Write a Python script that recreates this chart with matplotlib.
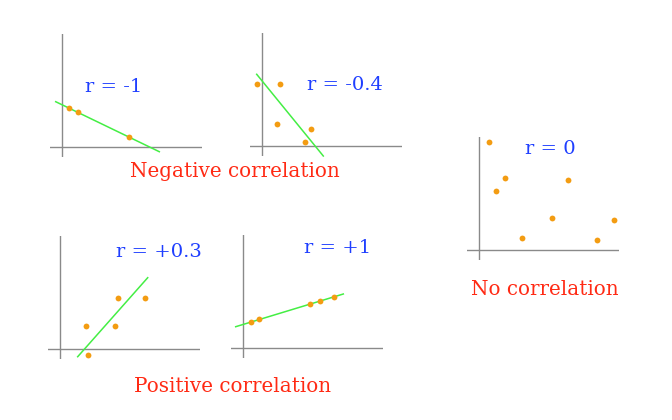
import matplotlib
matplotlib.use("Agg")
import matplotlib.pyplot as plt

W, H = 672, 420

# point data in each panel's own units (origin = where the axes cross)
neg1_x = [7, 16, 67]
neg1_y = [38.4, 34.7, 9.4]
neg1_fit_x = [-6.6, 97]
neg1_fit_y = [45, -5]

neg04_x = [-5, 18.3, 15, 49.6, 43.6]
neg04_y = [62, 62, 22.3, 16.7, 3.7]
neg04_fit_x = [-5, 61.6]
neg04_fit_y = [71.7, -10]

zero_x = [10, 26.3, 16.7, 89.3, 73, 43, 118, 134.7]
zero_y = [107.4, 72, 58.7, 69.4, 32, 11.7, 10, 29.7]

pos03_x = [26, 58, 55.6, 85.3, 28.6]
pos03_y = [23, 51, 22.7, 50.7, -6]
pos03_fit_x = [18, 88]
pos03_fit_y = [-8, 71]

pos1_x = [7.4, 16, 66.7, 77, 90.7]
pos1_y = [25.7, 28.7, 43.7, 47, 51]
pos1_fit_x = [-7.6, 100]
pos1_fit_y = [21, 53.7]

labels = ["r = -1", "r = -0.4", "r = 0", "r = +0.3", "r = +1"]
groups = ["Negative correlation", "No correlation", "Positive correlation"]

ORANGE = "#f39c12"
GREEN = "#44ee44"
GREY = "#8a8a8a"
RED = "#ff2a14"
BLUE = "#1f3fff"

fig = plt.figure(figsize=(W / 100, H / 100), dpi=100)

panels = [
    # origin px, points, fit line, label, label position px
    ((62.3, 146.7), neg1_x, neg1_y, (neg1_fit_x, neg1_fit_y), labels[0], (114, 86.7)),
    ((261.7, 146.0), neg04_x, neg04_y, (neg04_fit_x, neg04_fit_y), labels[1], (345, 85)),
    ((479.0, 249.7), zero_x, zero_y, None, labels[2], (550, 149.3)),
    ((59.7, 348.7), pos03_x, pos03_y, (pos03_fit_x, pos03_fit_y), labels[3], (159, 252.3)),
    ((243.3, 347.7), pos1_x, pos1_y, (pos1_fit_x, pos1_fit_y), labels[4], (337.3, 248.3)),
]

x0, x1, y0, y1 = -12, 140, -10, 113

for (ox, oy), px, py, fit, lab, (tx, ty) in panels:
    ax = fig.add_axes([(ox + x0) / W, (H - (oy - y0)) / H, (x1 - x0) / W, (y1 - y0) / H])
    ax.set_xlim(x0, x1)
    ax.set_ylim(y0, y1)
    ax.axis("off")
    ax.axhline(0, color=GREY, lw=1.0)
    ax.axvline(0, color=GREY, lw=1.0)
    if fit is not None:
        ax.plot(fit[0], fit[1], color=GREEN, lw=1.1, clip_on=False, zorder=2)
    ax.plot(px, py, "o", color=ORANGE, ms=4.2, mec="none", clip_on=False, zorder=3)
    fig.text(tx / W, 1 - ty / H, lab, color=BLUE, fontsize=14, family="DejaVu Serif",
             ha="center", va="center")

group_pos = [(235, 171.7), (545, 289.3), (232.7, 386.7)]
for g, (gx, gy) in zip(groups, group_pos):
    fig.text(gx / W, 1 - gy / H, g, color=RED, fontsize=14.3, family="DejaVu Serif",
             ha="center", va="center")

fig.savefig("out.png", dpi=100, facecolor="white")
